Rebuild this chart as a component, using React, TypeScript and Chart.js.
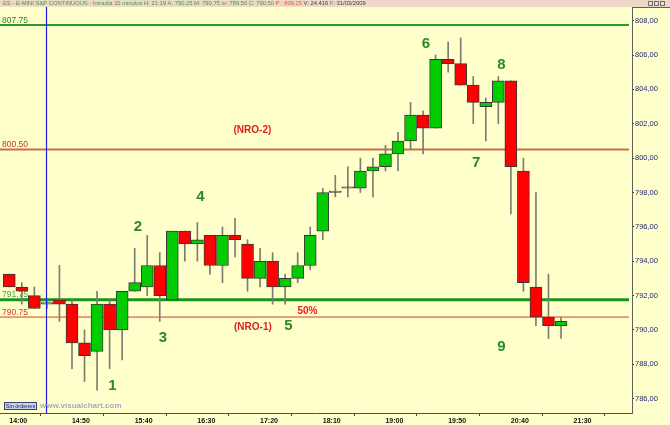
import React, { useEffect, useRef } from 'react';
import { Chart, registerables } from 'chart.js';

Chart.register(...registerables);

// ---- data ----
const barTimes = [
  '14:00', '14:10', '14:20', '14:30', '14:40', '14:50', '15:00', '15:10', '15:20', '15:30',
  '15:40', '15:50', '16:00', '16:10', '16:20', '16:30', '16:40', '16:50', '17:00', '17:10',
  '17:20', '17:30', '17:40', '17:50', '18:00', '18:10', '18:20', '18:30', '18:40', '18:50',
  '19:00', '19:10', '19:20', '19:30', '19:40', '19:50', '20:00', '20:10', '20:20', '20:30',
  '20:40', '20:50', '21:00', '21:10', '21:20',
];
const openP = [
  793.25, 792.5, 792.0, 791.5, 791.75, 791.5, 789.25, 788.75, 791.5, 790.0,
  792.25, 792.5, 793.75, 791.75, 795.75, 795.0, 795.5, 793.75, 795.5, 795.0,
  793.0, 794.0, 792.5, 793.0, 793.75, 795.75, 798.0, 798.25, 798.25, 799.25,
  799.5, 800.25, 801.0, 802.5, 801.75, 805.75, 805.5, 804.25, 803.0, 803.25,
  804.5, 799.25, 792.5, 790.75, 790.25,
];
const highP = [
  793.25, 792.75, 792.5, 791.75, 793.75, 791.75, 790.0, 792.25, 791.75, 792.25,
  794.75, 795.5, 794.5, 795.75, 795.75, 796.25, 795.5, 796.0, 796.5, 795.25,
  794.75, 794.5, 793.25, 794.5, 796.0, 798.25, 799.0, 799.5, 800.0, 800.0,
  800.75, 801.5, 803.25, 802.75, 806.0, 806.75, 807.0, 804.75, 803.5, 804.75,
  804.5, 800.0, 798.0, 793.25, 790.75,
];
const lowP = [
  792.5, 791.5, 791.25, 791.25, 790.5, 787.75, 787.0, 786.5, 787.75, 788.25,
  792.25, 792.0, 790.5, 791.75, 794.0, 794.0, 793.25, 792.75, 794.25, 792.25,
  792.5, 791.5, 791.5, 792.75, 793.5, 795.25, 797.75, 797.75, 798.0, 797.75,
  799.25, 799.25, 800.5, 800.25, 801.75, 805.0, 804.25, 802.0, 801.0, 802.0,
  796.75, 792.25, 790.25, 789.5, 789.5,
];
const closeP = [
  792.5, 792.25, 791.25, 791.5, 791.5, 789.25, 788.5, 791.5, 790.0, 792.25,
  792.75, 793.75, 792.0, 795.75, 795.0, 795.25, 793.75, 795.5, 795.25, 793.0,
  794.0, 792.5, 793.0, 793.75, 795.5, 798.0, 798.0, 798.25, 799.25, 799.5,
  800.25, 801.0, 802.5, 801.75, 805.75, 805.5, 804.25, 803.25, 803.25, 804.5,
  799.5, 792.75, 790.75, 790.25, 790.5,
];

const xTickLabels = ['14:00', '14:50', '15:40', '16:30', '17:20', '18:10', '19:00', '19:50', '20:40', '21:30'];
const xTickEvery = 5;
const yTicks = [786, 788, 790, 792, 794, 796, 798, 800, 802, 804, 806, 808];
const xMin = -0.74;
const xMax = 49.66;
const yMin = 785.165;
const yMax = 808.74;

const levelValues = [807.75, 800.5, 791.75, 790.75];
const levelLabels = ['807.75', '800.50', '791.75', '790.75'];
const cursorIndex = 3;

const waveLabels = ['1', '2', '3', '4', '5', '6', '7', '8', '9'];
const waveIndex = [8.23, 10.26, 12.26, 15.25, 22.26, 33.23, 37.24, 39.24, 39.24];
const wavePrice = [786.75, 796.0, 789.52, 797.72, 790.24, 806.66, 799.75, 805.45, 789.04];

const noteLabels = ['(NRO-2)', '(NRO-1)', '50%'];
const noteIndex = [19.39, 19.43, 23.78];
const notePrice = [801.61, 790.13, 791.08];

const headerParts = [
  'ES - E-MINI S&P CONTINUOUS - Intradía 10 minutos H: 21:19 A: 790,25 M: 790,75 m: 789,50 C: 790,50 ',
  'P : 809,25',
  ' V: 24.416 ',
  'F',
  ': 31/03/2009',
];

// ---- styles ----
const BG = '#FFFFCC';
const HEADER_BG = '#EED8C8';
const headerColors = ['#3C9C3C', '#E06020', '#404040', '#3C9C3C', '#404040'];
const levelStyles = [
  { line: '#2A9A2A', width: 2, text: '#2A8A2A' },
  { line: '#C87048', width: 2, text: '#C03828' },
  { line: '#18961A', width: 3, text: '#4CA04C' },
  { line: '#E03A2A', width: 1, text: '#D04030' },
];
const FONT = "Arial, 'Liberation Sans', sans-serif";

const overlay = {
  id: 'overlay',
  beforeDraw(chart: any) {
    const { ctx, width, height } = chart;
    ctx.save();
    ctx.fillStyle = BG;
    ctx.fillRect(0, 0, width, height);
    ctx.fillStyle = HEADER_BG;
    ctx.fillRect(0, 0, width, 7);
    ctx.font = `5.8px ${FONT}`;
    ctx.textBaseline = 'middle';
    ctx.textAlign = 'left';
    let x = 3;
    headerParts.forEach((p, i) => {
      ctx.fillStyle = headerColors[i];
      ctx.fillText(p, x, 3.8);
      x += ctx.measureText(p).width;
    });
    // window buttons
    ctx.strokeStyle = '#707070';
    ctx.lineWidth = 1;
    [648, 654, 660].forEach((bx) => {
      ctx.fillStyle = '#E8E0D8';
      ctx.fillRect(bx, 1, 5, 5);
      ctx.strokeRect(bx + 0.5, 1.5, 4, 4);
    });
    // right panel frame
    const ca = chart.chartArea;
    ctx.strokeStyle = '#606060';
    ctx.beginPath();
    ctx.moveTo(ca.right, 7.5);
    ctx.lineTo(width, 7.5);
    ctx.stroke();
    ctx.restore();
  },
  beforeDatasetsDraw(chart: any) {
    const { ctx, chartArea: ca, scales } = chart;
    const ys = scales.y;
    ctx.save();
    levelValues.forEach((v, i) => {
      const y = ys.getPixelForValue(v);
      const st = levelStyles[i];
      ctx.strokeStyle = st.line;
      ctx.lineWidth = st.width;
      ctx.beginPath();
      ctx.moveTo(ca.left, y);
      ctx.lineTo(ca.right - 3, y);
      ctx.stroke();
      ctx.fillStyle = st.text;
      ctx.font = `8.5px ${FONT}`;
      ctx.textAlign = 'left';
      ctx.textBaseline = 'alphabetic';
      ctx.fillText(levelLabels[i], ca.left + 2, y - 2.5);
    });
    ctx.restore();
  },
  afterDatasetsDraw(chart: any) {
    const { ctx, chartArea: ca, scales } = chart;
    const xs = scales.x;
    const ys = scales.y;
    ctx.save();
    // cursor line
    const cx = Math.round(xs.getPixelForValue(cursorIndex)) - 0.5;
    ctx.strokeStyle = '#2020E8';
    ctx.lineWidth = 1.2;
    ctx.beginPath();
    ctx.moveTo(cx, ca.top - 1);
    ctx.lineTo(cx, ca.bottom);
    ctx.stroke();

    ctx.textAlign = 'center';
    ctx.textBaseline = 'middle';
    ctx.font = `bold 15px ${FONT}`;
    ctx.fillStyle = '#2A8A22';
    waveLabels.forEach((t, i) => {
      ctx.fillText(t, xs.getPixelForValue(waveIndex[i]), ys.getPixelForValue(wavePrice[i]));
    });
    ctx.font = `bold 10px ${FONT}`;
    ctx.fillStyle = '#E02020';
    noteLabels.forEach((t, i) => {
      ctx.fillText(t, xs.getPixelForValue(noteIndex[i]), ys.getPixelForValue(notePrice[i]));
    });

    // "Sin órdenes" box and watermark
    ctx.fillStyle = '#C8D4EE';
    ctx.fillRect(ca.left + 4, ca.bottom - 11, 33, 8);
    ctx.strokeStyle = '#404070';
    ctx.lineWidth = 1;
    ctx.strokeRect(ca.left + 4.5, ca.bottom - 10.5, 32, 7);
    ctx.fillStyle = '#202050';
    ctx.font = `5.5px ${FONT}`;
    ctx.fillText('Sin órdenes', ca.left + 20.5, ca.bottom - 7);
    ctx.textAlign = 'left';
    ctx.fillStyle = '#A8A8C4';
    ctx.font = `bold 8px ${FONT}`;
    ctx.fillText('www.visualchart.com', ca.left + 40, ca.bottom - 7);
    ctx.restore();
  },
};

export default function App() {
  const ref = useRef<HTMLCanvasElement | null>(null);

  useEffect(() => {
    if (!ref.current) return;
    const wickData = barTimes.map((_, i) => ({ x: i, y: [lowP[i], highP[i]] }));
    const bodyData = barTimes.map((_, i) => ({ x: i, y: [openP[i], closeP[i]] }));
    const bodyColors = barTimes.map((_, i) => (closeP[i] >= openP[i] ? '#00CC00' : '#FF0000'));

    const chart = new Chart(ref.current, {
      type: 'bar',
      data: {
        datasets: [
          {
            label: 'wick',
            data: wickData as any,
            backgroundColor: '#7C7C70',
            barThickness: 1,
            grouped: false,
            order: 2,
            minBarLength: 1,
          },
          {
            label: 'body',
            data: bodyData as any,
            backgroundColor: bodyColors,
            borderColor: '#383838',
            borderWidth: 1,
            borderSkipped: false,
            barThickness: 12,
            grouped: false,
            order: 1,
            minBarLength: 1.5,
          },
        ],
      },
      options: {
        responsive: false,
        animation: false,
        events: [],
        layout: { padding: { top: 8, left: 0, right: 0, bottom: 0 } },
        plugins: { legend: { display: false }, tooltip: { enabled: false } },
        scales: {
          x: {
            type: 'linear',
            min: xMin,
            max: xMax,
            offset: false,
            afterBuildTicks: (s: any) => {
              s.ticks = xTickLabels.map((_, k) => ({ value: k * xTickEvery }));
            },
            afterFit: (s: any) => {
              s.height = 12;
            },
            grid: { drawOnChartArea: false, drawTicks: true, tickLength: 3, color: '#404040' },
            border: { display: true, color: '#505050', width: 1 },
            ticks: {
              align: 'start',
              autoSkip: false,
              maxRotation: 0,
              padding: 1,
              color: '#101010',
              font: { family: FONT, size: 7, weight: 'bold' },
              callback: (v: any) => xTickLabels[Math.round(Number(v) / xTickEvery)] ?? '',
            },
          },
          y: {
            type: 'linear',
            position: 'right',
            min: yMin,
            max: yMax,
            afterBuildTicks: (s: any) => {
              s.ticks = yTicks.map((v) => ({ value: v }));
            },
            afterFit: (s: any) => {
              s.width = 38;
            },
            grid: { drawOnChartArea: false, drawTicks: true, tickLength: 2, color: '#1E1E6E' },
            border: { display: true, color: '#606060', width: 1 },
            ticks: {
              padding: 1,
              color: '#1E1E6E',
              font: { family: FONT, size: 7.5 },
              callback: (v: any) => Number(v).toFixed(2).replace('.', ','),
            },
          },
        },
      },
      plugins: [overlay],
    } as any);
    return () => chart.destroy();
  }, []);

  return (
    <div style={{ position: 'fixed', left: 0, top: 0, width: 670, height: 425, background: BG }}>
      <canvas ref={ref} width={670} height={425} style={{ display: 'block' }} />
    </div>
  );
}
